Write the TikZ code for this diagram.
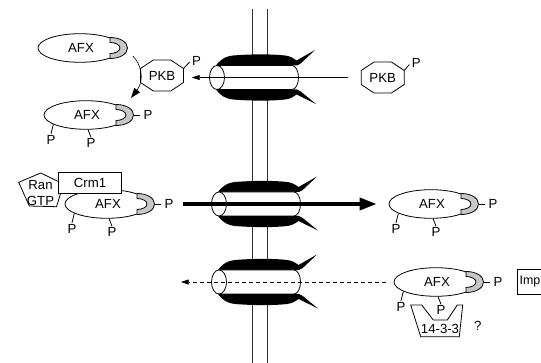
\documentclass[tikz,border=0pt]{standalone}
\usepackage{fontspec}
\setmainfont{Liberation Sans}
\usetikzlibrary{arrows.meta,shapes.geometric}
\definecolor{capgray}{gray}{0.78}

\tikzset{
  txt/.style={font=\fontsize{13.2}{16}\selectfont, inner sep=1pt},
  outline/.style={line width=0.8pt},
  afxbody/.style={ellipse, draw, fill=white, outline, minimum width=84pt,
    minimum height=28.6pt, inner sep=0pt, font=\fontsize{13.2}{16}\selectfont},
  bond/.style={line width=0.8pt},
  memb/.style={line width=0.7pt, black!80},
  thinarrow/.style={line width=0.8pt, -{Triangle[length=8pt,width=5pt]}},
  dasharrow/.style={line width=0.8pt, dash pattern=on 4pt off 3pt,
    -{Triangle[length=8pt,width=5pt]}},
  thickarrow/.style={line width=3.5pt, -{Triangle[length=17pt,width=12pt]}},
  curvearrow/.style={line width=0.6pt, -{Triangle[length=10pt,width=7pt]}}
}

% AFX molecule: ellipse body with grey crescent on its right end
\newcommand\afxmol[3]{%
  \node[afxbody] (#1) at (#2,#3) {\hspace*{2pt}AFX};
  \begin{scope}[shift={(#1.center)}]
    \fill[white] (30,-10.5) .. controls (40,-10.5) and (47.5,-6) .. (47.5,0)
      .. controls (47.5,6) and (40,10.5) .. (30,10.5) -- cycle;
    \filldraw[fill=capgray, outline] (30,-10.5) .. controls (40,-10.5) and (47.5,-6) .. (47.5,0)
      .. controls (47.5,6) and (40,10.5) .. (30,10.5) -- (30,5.5)
      .. controls (35.5,5.5) and (40,3) .. (40,0)
      .. controls (40,-3) and (35.5,-5.5) .. (30,-5.5) -- cycle;
  \end{scope}
  \coordinate (#1-tip) at ([xshift=47.5pt]#1.center);
}

% three phosphate groups on an AFX molecule
\newcommand\phos[1]{%
  \node[txt] (#1-p1) at ([shift={(-35,24.5)}]#1.center) {P};
  \node[txt] (#1-p2) at ([shift={(5,28)}]#1.center) {P};
  \node[txt] (#1-p3) at ([shift={(62,0)}]#1.center) {P};
  \draw[bond] (#1.196) -- (#1-p1.north);
  \draw[bond] (#1.278) -- (#1-p2.north);
  \draw[bond, shorten >=2pt] (#1-tip) -- (#1-p3.west);
}

% PKB kinase: octagon around its label
\newcommand\pkbmol[3]{%
  \node[txt, minimum width=43pt, minimum height=31pt] (#1) at (#2,#3) {PKB};
  \draw[outline, shift={(#1.center)}] (-21.5,-7) -- (-8.7,-15.5) -- (8.7,-15.5)
    -- (21.5,-7) -- (21.5,7) -- (8.7,15.5) -- (-8.7,15.5) -- (-21.5,7) -- cycle;
}

% nuclear pore: cylinder with dark collar and two fins
\newcommand\pore[2]{%
  \begin{scope}[shift={(#1,#2)}]
    \fill (-4,-7) .. controls (0,-15) and (6,-21) .. (16,-22)
      .. controls (35,-23.5) and (55,-23.5) .. (68,-22)
      .. controls (73,-21.5) and (76,-19.5) .. (79.5,-17) -- (98,-27.5)
      -- (83.5,-13.8) -- (80,-12) -- (0,-12) -- cycle;
    \fill (-4,7) .. controls (0,15) and (6,21) .. (16,22)
      .. controls (35,23.5) and (55,23.5) .. (68,22)
      .. controls (73,21.5) and (76,19.5) .. (79.5,17) -- (99,26.5)
      -- (83.5,13.8) -- (80,12) -- (0,12) -- cycle;
    \fill[white] (0,-12) -- (75,-12)
      arc[start angle=-90, end angle=90, x radius=6.5, y radius=12] -- (0,12) -- cycle;
    \draw[outline] (0,-12) -- (75,-12)
      arc[start angle=-90, end angle=90, x radius=6.5, y radius=12] -- (0,12);
    \filldraw[fill=white, outline] (0,0) ellipse [x radius=7.5, y radius=12];
  \end{scope}
}

\begin{document}
\begin{tikzpicture}[x=1pt, y=-1pt]
  \useasboundingbox (0,0) rectangle (541,363);
  \clip (0,0) rectangle (541,363);

  % nuclear envelope
  \draw[memb] (252,9) -- (252,363);
  \draw[memb] (267,9) -- (267,363);

  % pores
  \pore{217}{77.5}
  \pore{219}{204}
  \pore{219}{282}

  % --- top row: PKB phosphorylates AFX
  \afxmol{afx1}{80}{48}
  \afxmol{afx2}{86}{115}
  \phos{afx2}

  \pkbmol{pkbL}{162}{75.5}
  \node[txt] (pkbL-p) at ([shift={(34.5,-14.8)}]pkbL.center) {P};
  \coordinate (pkbL-c) at ([shift={(21.5,-7)}]pkbL.center);
  \draw[bond, shorten >=2pt] (pkbL-c) -- (pkbL-p.west);

  \pkbmol{pkbR}{382.7}{77.5}
  \node[txt] (pkbR-p) at ([shift={(33.5,-14.5)}]pkbR.center) {P};
  \coordinate (pkbR-c) at ([shift={(21.5,-7)}]pkbR.center);
  \draw[bond, shorten >=2pt] (pkbR-c) -- (pkbR-p.west);

  \coordinate (inTop) at (191.7,77.5);
  \draw[thinarrow, shorten <=13pt] (pkbR.west) -- (inTop);

  \coordinate (bendA) at (132.7,56);
  \coordinate (bendB) at (131,98);
  \draw[curvearrow] (bendA) .. controls +(8,7) and +(14,-18) .. (bendB);

  % --- middle row: export with Crm1 / RanGTP
  \node[txt, align=center] (ran) at (40.5,193) {Ran\\GTP};
  \draw[outline, shift={(ran.center)}] (0.2,-20) -- (-21.8,-10.7) -- (-11.2,13)
    -- (16,13.7) -- (23,-9) -- cycle;
  \afxmol{afx3}{107}{204}
  \phos{afx3}
  \node[txt, draw, outline, fill=white, minimum width=63.4pt, minimum height=20.6pt]
    (crm) at (90,183) {Crm1};

  \afxmol{afx4}{431}{204}
  \phos{afx4}
  \draw[thickarrow, shorten <=8.5pt, shorten >=12pt] (afx3-p3.east) -- (afx4.west);

  % --- bottom row: import, 14-3-3 binding
  \afxmol{afx5}{436}{282}
  \phos{afx5}
  \node[txt] (f1433) at (440,329.3) {14-3-3};
  \draw[outline, shift={(f1433.center)}] (-29.3,-24.3) -- (-18.3,-24.3) -- (-6.7,-9.3)
    -- (7.3,-9.3) -- (17.3,-24.3) -- (22.7,-24.3) -- (19.3,7.4) -- (-19.3,7.4) -- cycle;
  \node[txt] (qm) at (477.7,326) {?};
  \node[draw, outline, anchor=west, inner sep=2.3pt, text width=34pt, align=left,
    minimum height=25pt, font=\fontsize{12.4}{15}\selectfont] (imp) at (517,282) {Imp};

  \coordinate (outBot) at (180.7,282);
  \draw[dasharrow, shorten <=8pt] (afx5.west) -- (outBot);
\end{tikzpicture}
\end{document}
